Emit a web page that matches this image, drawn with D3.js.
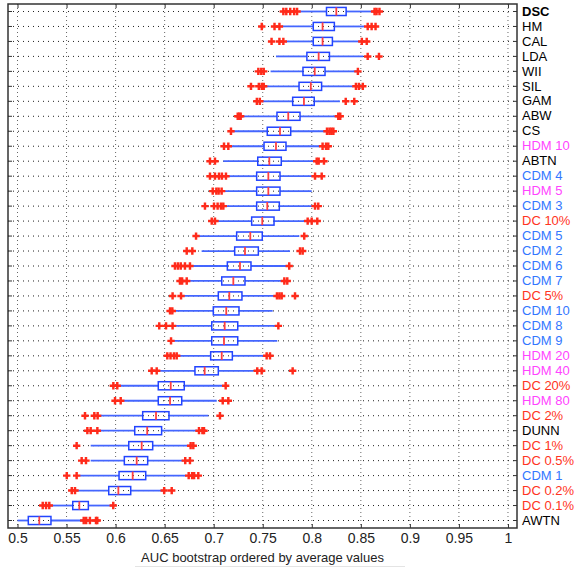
<!DOCTYPE html>
<html>
<head>
<meta charset="utf-8">
<script src="https://cdn.jsdelivr.net/npm/d3@7"></script>
<style>
  body { margin: 0; background: #fff; }
  svg { font-family: "Liberation Sans", Arial, sans-serif; }
</style>
</head>
<body>
<div id="chart"></div>
<script>
// categories, top to bottom
var labels = ["DSC", "HM", "CAL", "LDA", "WII", "SIL", "GAM", "ABW", "CS", "HDM 10",
  "ABTN", "CDM 4", "HDM 5", "CDM 3", "DC 10%", "CDM 5", "CDM 2", "CDM 6", "CDM 7", "DC 5%",
  "CDM 10", "CDM 8", "CDM 9", "HDM 20", "HDM 40", "DC 20%", "HDM 80", "DC 2%", "DUNN", "DC 1%",
  "DC 0.5%", "CDM 1", "DC 0.2%", "DC 0.1%", "AWTN"]

// method family of each label (sets the label colour)
var family = ["base", "base", "base", "base", "base", "base", "base", "base", "base", "hdm",
  "base", "cdm", "hdm", "cdm", "dc", "cdm", "cdm", "cdm", "cdm", "dc",
  "cdm", "cdm", "cdm", "hdm", "hdm", "dc", "hdm", "dc", "base", "dc",
  "dc", "cdm", "dc", "dc", "base"]

var whiskerLo = [0.787, 0.769, 0.773, 0.7635, 0.758, 0.752, 0.749, 0.729, 0.7186, 0.7166,
  0.7098, 0.7135, 0.7086, 0.7108, 0.7016, 0.684, 0.6877, 0.6768, 0.6738, 0.6688,
  0.6596, 0.6596, 0.6575, 0.6633, 0.6433, 0.6027, 0.6085, 0.5851, 0.5824, 0.5746,
  0.5746, 0.5637, 0.5596, 0.5331, 0.5]
var q1 = [0.815, 0.8015, 0.8015, 0.795, 0.791, 0.787, 0.7805, 0.7645, 0.7546, 0.7513,
  0.7449, 0.7438, 0.7438, 0.7438, 0.7387, 0.7234, 0.7214, 0.7139, 0.7082, 0.7047,
  0.6996, 0.698, 0.698, 0.6969, 0.6809, 0.6435, 0.6435, 0.6276, 0.6195, 0.6134,
  0.6089, 0.6035, 0.593, 0.5563, 0.511]
var median = [0.825, 0.811, 0.811, 0.807, 0.803, 0.799, 0.792, 0.776, 0.7676, 0.7635,
  0.7567, 0.7557, 0.7557, 0.7546, 0.7495, 0.7373, 0.7319, 0.7268, 0.72, 0.7159,
  0.7128, 0.7112, 0.7105, 0.7082, 0.6908, 0.6562, 0.6555, 0.6412, 0.6322, 0.6266,
  0.6215, 0.6174, 0.6028, 0.563, 0.5222]
var q3 = [0.835, 0.823, 0.821, 0.818, 0.8135, 0.81, 0.8025, 0.788, 0.7785, 0.7737,
  0.7689, 0.7676, 0.7676, 0.7669, 0.7615, 0.7495, 0.7455, 0.738, 0.7319, 0.7288,
  0.7258, 0.7245, 0.7245, 0.719, 0.7047, 0.67, 0.6674, 0.6544, 0.6469, 0.6378,
  0.6327, 0.6307, 0.6154, 0.5722, 0.5341]
var whiskerHi = [0.863, 0.854, 0.849, 0.8525, 0.846, 0.842, 0.8287, 0.825, 0.8135, 0.8084,
  0.8033, 0.8015, 0.7999, 0.8015, 0.7948, 0.7873, 0.7778, 0.776, 0.7693, 0.7635,
  0.7601, 0.7635, 0.7648, 0.7506, 0.7404, 0.7088, 0.7031, 0.6945, 0.683, 0.6758,
  0.669, 0.6725, 0.6486, 0.5966, 0.5665]
var outliers = [
  [0.771, 0.774, 0.778, 0.782, 0.785, 0.864, 0.866, 0.869],
  [0.749, 0.762, 0.767, 0.857, 0.861, 0.865],
  [0.759, 0.767, 0.771, 0.851, 0.856],
  [0.857, 0.8685],
  [0.7455, 0.7485, 0.751, 0.847],
  [0.738, 0.746, 0.749, 0.751, 0.845, 0.848, 0.852],
  [0.744, 0.747, 0.8346, 0.8433],
  [0.7245, 0.726, 0.7275, 0.827, 0.829],
  [0.7176, 0.8155, 0.818, 0.82, 0.822],
  [0.7105, 0.7149, 0.811, 0.8145, 0.8168],
  [0.6962, 0.7013, 0.805, 0.807, 0.8124],
  [0.6962, 0.7013, 0.7054, 0.7084, 0.7125, 0.8033, 0.8101],
  [0.699, 0.7027, 0.705, 0.7081],
  [0.6911, 0.7003, 0.704, 0.7074, 0.7098, 0.8033, 0.8066],
  [0.698, 0.7013, 0.7958, 0.7999, 0.8056],
  [0.682, 0.7923],
  [0.6725, 0.6782, 0.788, 0.7907],
  [0.6605, 0.6635, 0.6664, 0.6707, 0.6758, 0.777],
  [0.6656, 0.6678, 0.6725, 0.772, 0.775],
  [0.6581, 0.6667, 0.7645, 0.767, 0.7693, 0.7829],
  [0.6555, 0.6578],
  [0.6445, 0.6514, 0.6581, 0.7659],
  [0.6565],
  [0.6527, 0.656, 0.6595, 0.6623, 0.754, 0.7574],
  [0.6368, 0.6419, 0.7444, 0.7489, 0.7805],
  [0.5977, 0.6017, 0.7122],
  [0.5994, 0.6052, 0.7092, 0.7149],
  [0.5688, 0.5783, 0.5817, 0.7064],
  [0.5712, 0.5746, 0.5814, 0.685, 0.6885, 0.6901],
  [0.5603, 0.6765, 0.6792],
  [0.5654, 0.5698, 0.671, 0.6758],
  [0.5502, 0.5603, 0.6745, 0.678, 0.68, 0.6843],
  [0.5553, 0.5586, 0.6495, 0.6572],
  [0.5257, 0.5291, 0.5324, 0.5976],
  [0.5675, 0.57, 0.5738, 0.58, 0.5813]
]

var xTicks = [0.5, 0.55, 0.6, 0.65, 0.7, 0.75, 0.8, 0.85, 0.9, 0.95, 1]
var xTitle = "AUC bootstrap ordered by average values"

var familyColor = { base: "#000000", hdm: "#ff44ff", cdm: "#3377ff", dc: "#ff3322" }

var data = labels.map(function (l, i) {
  return { label: l, family: family[i], lo: whiskerLo[i], q1: q1[i], med: median[i],
    q3: q3[i], hi: whiskerHi[i], out: outliers[i] }
})

var W = 576, H = 570
var plotL = 8, plotR = 517, plotT = 4, plotB = 528

var svg = d3.select("#chart").append("svg")
  .attr("width", W)
  .attr("height", H)

var x = d3.scaleLinear()
  .domain([0.4903, 1.0092])
  .range([plotL, plotR])

var y = d3.scaleBand()
  .domain(labels)
  .range([plotT, plotB])
  .padding(0)

var bw = y.bandwidth()
function cy(l) { return y(l) + bw / 2 }

// grid
svg.append("g").selectAll("line")
  .data(xTicks)
  .enter().append("line")
  .attr("x1", function (d) { return x(d) }).attr("x2", function (d) { return x(d) })
  .attr("y1", plotT).attr("y2", plotB)
  .attr("stroke", "#666")
  .attr("stroke-dasharray", "1,3")

svg.append("g").selectAll("line")
  .data(labels)
  .enter().append("line")
  .attr("x1", plotL).attr("x2", plotR)
  .attr("y1", function (d) { return cy(d) }).attr("y2", function (d) { return cy(d) })
  .attr("stroke", "#222")
  .attr("stroke-dasharray", "1,4")

// boxes
var rows = svg.append("g").selectAll("g")
  .data(data)
  .enter().append("g")
  .attr("transform", function (d) { return "translate(0," + cy(d.label) + ")" })

rows.append("line")
  .attr("x1", function (d) { return x(d.lo) })
  .attr("x2", function (d) { return x(d.q1) })
  .attr("stroke", "#4466ff").attr("stroke-width", 1.8)
rows.append("line")
  .attr("x1", function (d) { return x(d.q3) })
  .attr("x2", function (d) { return x(d.hi) })
  .attr("stroke", "#4466ff").attr("stroke-width", 1.8)

rows.append("rect")
  .attr("x", function (d) { return x(d.q1) })
  .attr("y", -bw * 0.27)
  .attr("width", function (d) { return x(d.q3) - x(d.q1) })
  .attr("height", bw * 0.54)
  .attr("fill", "none")
  .attr("stroke", "#2244ff")
  .attr("stroke-width", 1.5)

rows.append("line")
  .attr("x1", function (d) { return x(d.med) })
  .attr("x2", function (d) { return x(d.med) })
  .attr("y1", -bw * 0.27).attr("y2", bw * 0.27)
  .attr("stroke", "#ff4040").attr("stroke-width", 1.8)

var cross = d3.symbol().type(d3.symbolCross).size(30)
rows.selectAll("path")
  .data(function (d) { return d.out })
  .enter().append("path")
  .attr("d", cross)
  .attr("transform", function (v) { return "translate(" + x(v) + ",0)" })
  .attr("fill", "#ff2a1a")

// axes
var fmt = function (d) { return String(+d.toFixed(2)) }

var xBottom = svg.append("g")
  .attr("transform", "translate(0," + plotB + ")")
  .call(d3.axisBottom(x).tickValues(xTicks).tickFormat(fmt).tickSizeInner(-4).tickSizeOuter(0).tickPadding(5))
xBottom.select(".domain").remove()
xBottom.selectAll("text").attr("font-size", 14).attr("fill", "#222")
  .attr("font-family", "Liberation Sans, Arial, sans-serif")
xBottom.selectAll("line").attr("stroke", "#333")

var xTop = svg.append("g")
  .attr("transform", "translate(0," + plotT + ")")
  .call(d3.axisTop(x).tickValues(xTicks).tickFormat("").tickSizeInner(-4).tickSizeOuter(0))
xTop.select(".domain").remove()
xTop.selectAll("line").attr("stroke", "#333")

var yLeft = svg.append("g")
  .attr("transform", "translate(" + plotL + ",0)")
  .call(d3.axisLeft(y).tickFormat("").tickSizeInner(-4).tickSizeOuter(0))
yLeft.select(".domain").remove()
yLeft.selectAll("line").attr("stroke", "#333")

var yRight = svg.append("g")
  .attr("transform", "translate(" + plotR + ",0)")
  .call(d3.axisRight(y).tickSizeInner(-4).tickSizeOuter(0).tickPadding(5))
yRight.select(".domain").remove()
yRight.selectAll("line").attr("stroke", "#333")
yRight.selectAll("text")
  .attr("font-size", 13)
  .attr("font-family", "Liberation Sans, Arial, sans-serif")
  .attr("fill", function (d, i) { return familyColor[family[i]] })
  .attr("font-weight", function (d, i) { return i === 0 ? "bold" : "normal" })

// frame
svg.append("rect")
  .attr("x", plotL).attr("y", plotT)
  .attr("width", plotR - plotL).attr("height", plotB - plotT)
  .attr("fill", "none")
  .attr("stroke", "#333")
  .attr("stroke-width", 1.5)

svg.append("text")
  .attr("x", (plotL + plotR) / 2)
  .attr("y", 562)
  .attr("text-anchor", "middle")
  .attr("font-size", 13)
  .attr("fill", "#222")
  .text(xTitle)

svg.append("line")
  .attr("x1", 135).attr("x2", 405)
  .attr("y1", 566.5).attr("y2", 566.5)
  .attr("stroke", "#e4e4e4")
</script>
</body>
</html>
